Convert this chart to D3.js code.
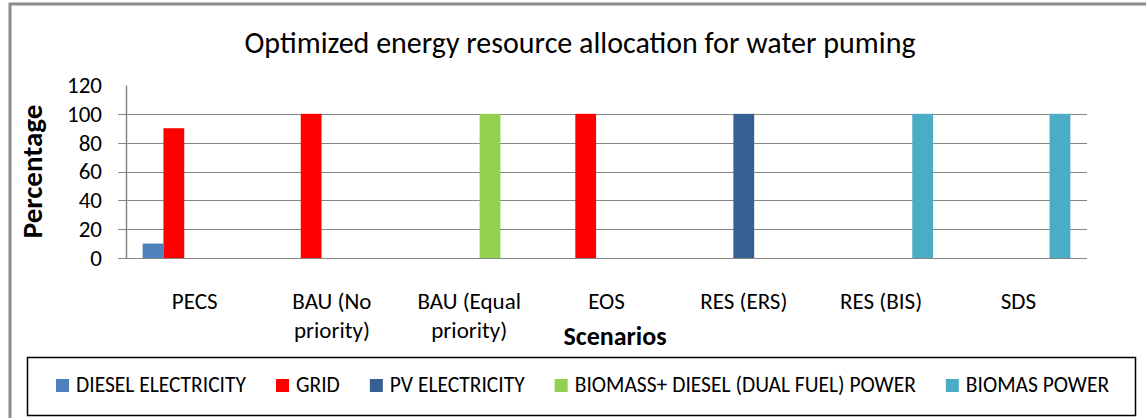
<!DOCTYPE html>
<html>
<head>
<meta charset="utf-8">
<script src="https://cdn.jsdelivr.net/npm/d3@7"></script>
<style>
  body { margin: 0; background: #fff; }
  text { font-family: Carlito, Lato, "Open Sans", sans-serif; fill: #000; }
</style>
</head>
<body>
<div id="chart"></div>
<script>
// categories on the x axis ("\n" marks the line break of the label)
const categories = ["PECS", "BAU (No\npriority)", "BAU (Equal\npriority)", "EOS", "RES (ERS)", "RES (BIS)", "SDS"];

// series names, in legend order
const seriesNames = ["DIESEL ELECTRICITY", "GRID", "PV ELECTRICITY", "BIOMASS+ DIESEL (DUAL FUEL) POWER", "BIOMAS POWER"];
const seriesColors = ["#4f81bd", "#ff0000", "#376092", "#92d050", "#4bacc6"];

// values per series, one per category
const dieselElectricity = [10, 0, 0, 0, 0, 0, 0];
const grid = [90, 100, 0, 100, 0, 0, 0];
const pvElectricity = [0, 0, 0, 0, 100, 0, 0];
const biomassDiesel = [0, 0, 100, 0, 0, 0, 0];
const biomasPower = [0, 0, 0, 0, 0, 100, 100];

const yTicks = [0, 20, 40, 60, 80, 100, 120];

const seriesValues = [dieselElectricity, grid, pvElectricity, biomassDiesel, biomasPower];

const width = 1146;
const height = 418;
const margin = { top: 85, right: 59, bottom: 160, left: 126 };

const svg = d3.select("#chart")
  .append("svg")
  .attr("width", width)
  .attr("height", height);

// outer chart border
svg.append("rect")
  .attr("x", 10)
  .attr("y", 4)
  .attr("width", 1150)
  .attr("height", 430)
  .attr("fill", "none")
  .attr("stroke", "#8c8c8c")
  .attr("stroke-width", 3);

const x0 = d3.scaleBand()
  .domain(categories)
  .range([margin.left, width - margin.right]);

const x1 = d3.scaleBand()
  .domain(seriesNames)
  .range([0, x0.bandwidth()])
  .paddingOuter(0.8);

const y = d3.scaleLinear()
  .domain([0, 120])
  .range([height - margin.bottom, margin.top]);

// gridlines (with the little tick stubs on the left)
svg.append("g")
  .selectAll("line")
  .data(yTicks.filter(d => d < 120))
  .enter()
  .append("line")
  .attr("x1", margin.left - 8)
  .attr("x2", width - margin.right)
  .attr("y1", d => Math.round(y(d)) + 0.5)
  .attr("y2", d => Math.round(y(d)) + 0.5)
  .attr("stroke", "#868686")
  .attr("stroke-width", 1.2);

// y axis
const yAxis = d3.axisLeft(y)
  .tickValues(yTicks)
  .tickSize(0)
  .tickPadding(24);

const yAxisGroup = svg.append("g")
  .attr("transform", `translate(${margin.left}, 0)`)
  .call(yAxis);

yAxisGroup.select(".domain")
  .attr("stroke", "#868686")
  .attr("stroke-width", 1.5);

yAxisGroup.selectAll("text")
  .style("font-size", "23px")
  .attr("fill", "#000");

// bars
const groups = svg.append("g")
  .selectAll("g")
  .data(categories)
  .enter()
  .append("g")
  .attr("transform", d => `translate(${x0(d)}, 0)`);

groups.selectAll("rect")
  .data((c, i) => seriesNames.map((s, j) => ({ series: s, value: seriesValues[j][i], color: seriesColors[j] })))
  .enter()
  .filter(d => d.value > 0)
  .append("rect")
  .attr("x", d => x1(d.series))
  .attr("width", x1.bandwidth())
  .attr("y", d => y(d.value))
  .attr("height", d => y(0) - y(d.value))
  .attr("fill", d => d.color);

// category labels
const catLabels = svg.append("g")
  .selectAll("text")
  .data(categories)
  .enter()
  .append("text")
  .attr("text-anchor", "middle")
  .attr("x", d => x0(d) + x0.bandwidth() / 2)
  .attr("y", 309)
  .style("font-size", "23px");

catLabels.selectAll("tspan")
  .data(d => d.split("\n"))
  .enter()
  .append("tspan")
  .attr("x", function() { return d3.select(this.parentNode).attr("x"); })
  .attr("dy", (d, i) => i === 0 ? 0 : 29)
  .text(d => d);

// title
svg.append("text")
  .attr("x", 580)
  .attr("y", 53)
  .attr("text-anchor", "middle")
  .style("font-size", "30px")
  .text("Optimized energy resource allocation for water puming");

// axis titles
svg.append("text")
  .attr("transform", "rotate(-90)")
  .attr("x", -(margin.top + (height - margin.bottom)) / 2)
  .attr("y", 42)
  .attr("text-anchor", "middle")
  .style("font-size", "29px")
  .style("font-weight", "bold")
  .text("Percentage");

svg.append("text")
  .attr("x", 615)
  .attr("y", 345)
  .attr("text-anchor", "middle")
  .style("font-size", "26px")
  .style("font-weight", "bold")
  .text("Scenarios");

// legend
svg.append("rect")
  .attr("x", 27.5)
  .attr("y", 357.5)
  .attr("width", 1108)
  .attr("height", 58)
  .attr("fill", "none")
  .attr("stroke", "#000")
  .attr("stroke-width", 1.5);

const legend = svg.append("g");
let lx = 56;
seriesNames.forEach(function(name, i) {
  legend.append("rect")
    .attr("x", lx)
    .attr("y", 379)
    .attr("width", 13)
    .attr("height", 13)
    .attr("fill", seriesColors[i]);
  const t = legend.append("text")
    .attr("x", lx + 20)
    .attr("y", 392)
    .style("font-size", "21.5px")
    .text(name);
  lx += 20 + t.node().getComputedTextLength() + 30;
});
</script>
</body>
</html>
